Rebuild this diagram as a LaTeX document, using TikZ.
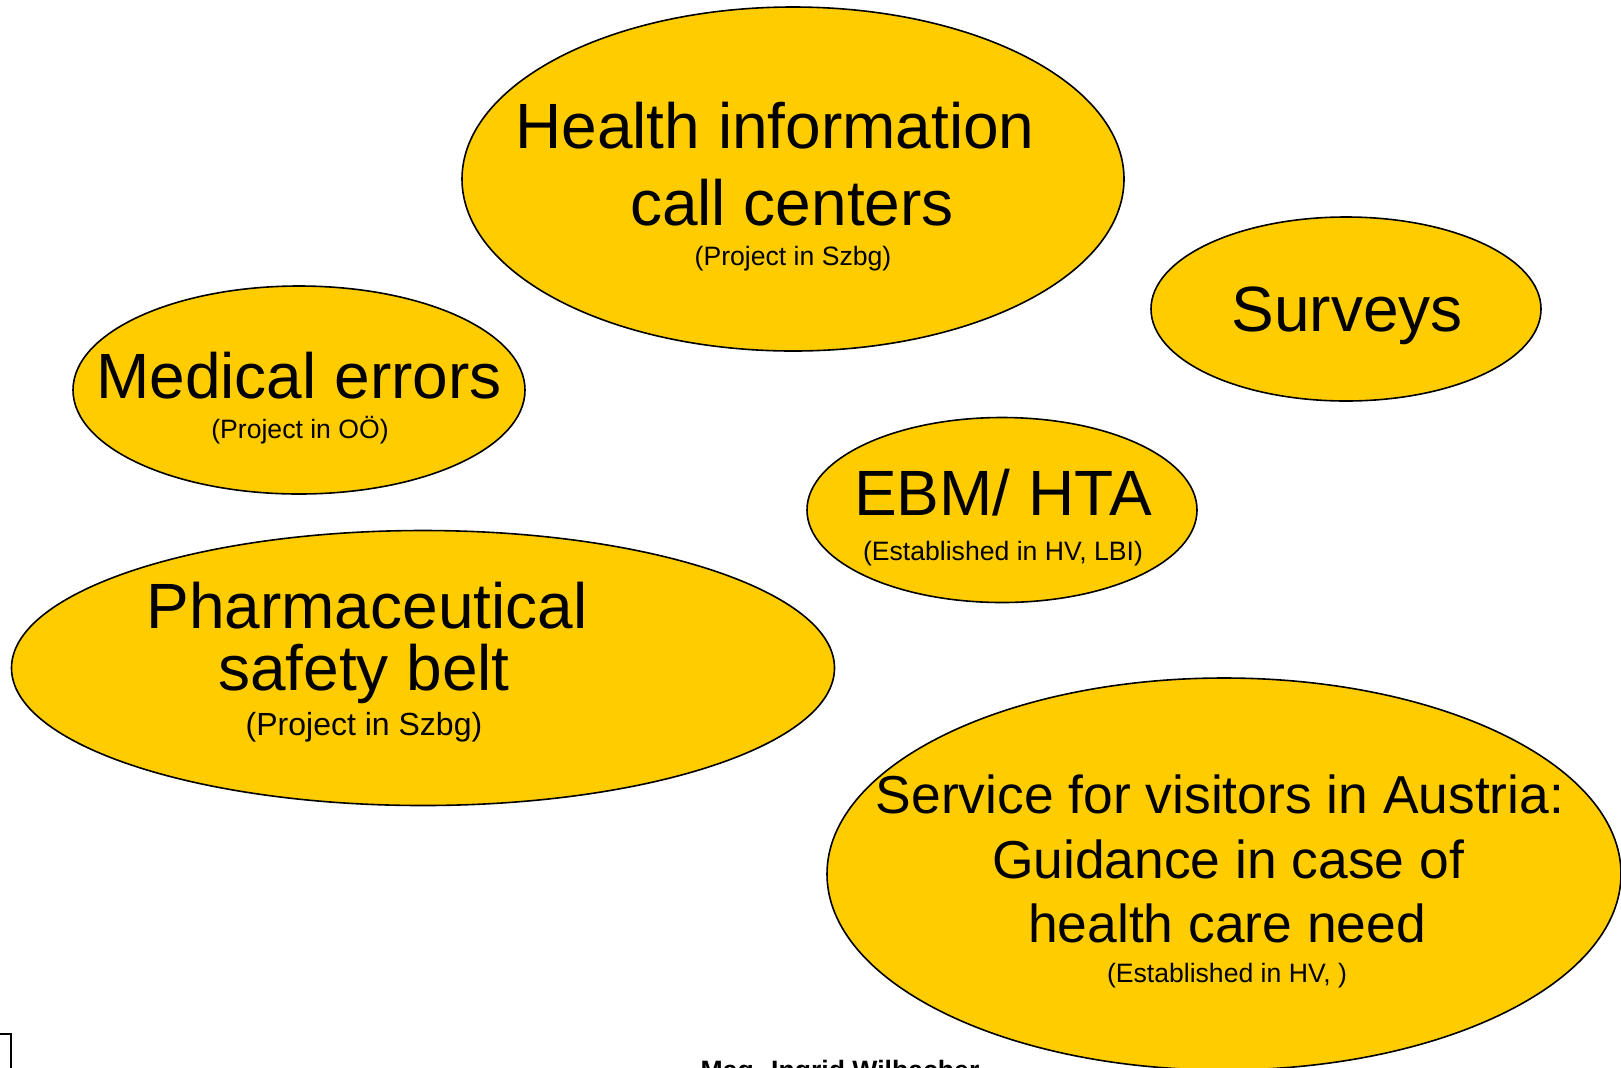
\documentclass[tikz,border=0pt]{standalone}
\usepackage{fontspec}
\setmainfont{Liberation Sans}
\usetikzlibrary{shapes.geometric}
\definecolor{gold}{RGB}{255,204,0}
\tikzset{
    blob/.style={ellipse, draw=black, fill=gold, line width=0.8pt, inner sep=0pt, outer sep=0pt},
    bigtxt/.style={anchor=base, inner sep=0pt, font=\fontsize{32}{38}\selectfont},
    midtxt/.style={anchor=base, inner sep=0pt, font=\fontsize{26.7}{32}\selectfont},
    subtxt/.style={anchor=base, inner sep=0pt, font=\fontsize{13.3}{16}\selectfont},
}
\begin{document}
\begin{tikzpicture}[x=0.5pt,y=-0.5pt]
        \useasboundingbox (0,0) rectangle (1621,1067);
        %bubbles
        \node[blob, minimum width=331pt, minimum height=172pt] (calls) at (793,179) {};
        \node[blob, minimum width=195pt, minimum height=92pt] (surveys) at (1346,309) {};
        \node[blob, minimum width=226pt, minimum height=104pt] (errors) at (299,390) {};
        \node[blob, minimum width=195pt, minimum height=92.5pt] (ebm) at (1002,510) {};
        \node[blob, minimum width=411.5pt, minimum height=137.5pt] (pharma) at (423,668) {};
        \node[blob, minimum width=397pt, minimum height=196pt] (visitors) at (1224,874) {};
        %texts
        \node[bigtxt] (calls1) at (775,148) {Health information};
        \node[bigtxt] (calls2) at (792,225) {call centers};
        \node[subtxt] (calls3) at (793,265) {(Project in Szbg)};
        \node[bigtxt] (surveys1) at (1347,331) {Surveys};
        \node[bigtxt] (errors1) at (299,398) {Medical errors};
        \node[subtxt] (errors2) at (300,438) {(Project in OÖ)};
        \node[bigtxt] (ebm1) at (1003,515) {EBM/ HTA};
        \node[subtxt] (ebm2) at (1003,560) {(Established in HV, LBI)};
        \node[bigtxt] (pharma1) at (367,628) {Pharmaceutical};
        \node[bigtxt] (pharma2) at (364,690) {safety belt};
        \node[subtxt, font=\fontsize{16}{19}\selectfont] (pharma3) at (364,735) {(Project in Szbg)};
        \node[midtxt] (visitors1) at (1220,813) {Service for visitors in Austria:};
        \node[midtxt] (visitors2) at (1228,878) {Guidance in case of};
        \node[midtxt] (visitors3) at (1227,942) {health care need};
        \node[subtxt] (visitors4) at (1227,982) {(Established in HV, )};
        %footer
        \node[anchor=base, inner sep=0pt, font=\fontsize{13.3}{16}\selectfont\bfseries] (author) at (840,1079) {Mag. Ingrid Wilbacher};
        \draw[line width=0.8pt] (-10,1034) -- (11,1034) -- (11,1090);
\end{tikzpicture}
\end{document}
